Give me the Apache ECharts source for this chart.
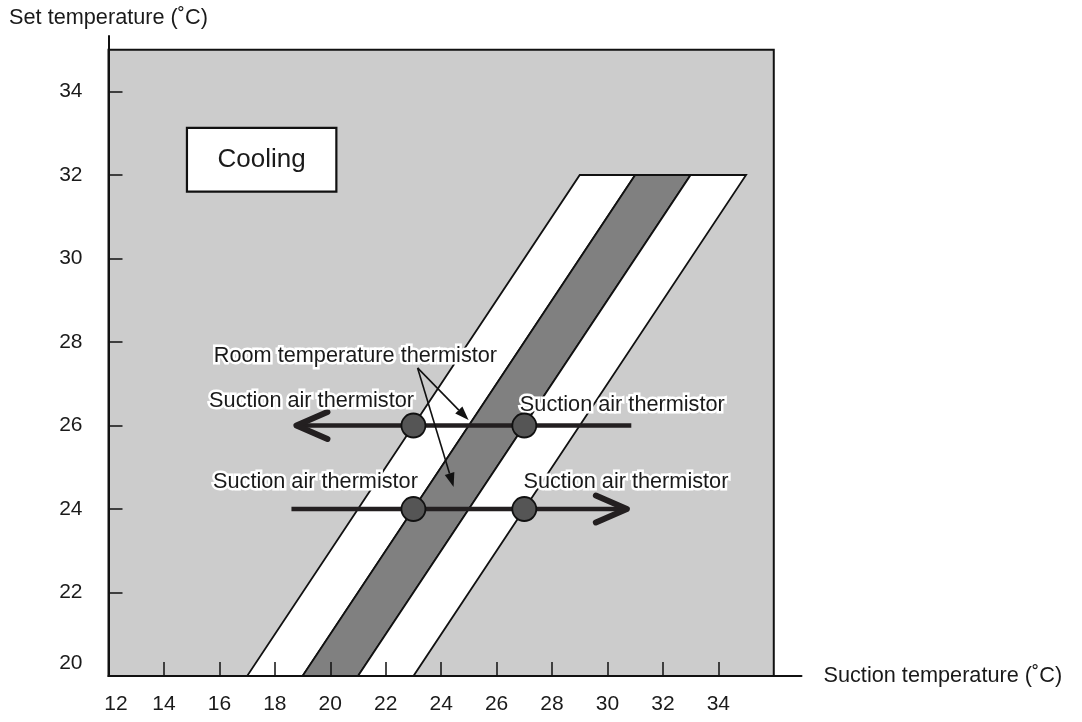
<!DOCTYPE html>
<html>
<head>
<meta charset="utf-8">
<script src="https://cdn.jsdelivr.net/npm/echarts@6/dist/echarts.min.js"></script>
<style>
  html, body { margin: 0; padding: 0; background: #ffffff; }
  #chart { width: 1082px; height: 722px; }
</style>
</head>
<body>
<div id="chart"></div>
<script>
// ---- Axis scales -------------------------------------------------------
const xTicks = [12, 14, 16, 18, 20, 22, 24, 26, 28, 30, 32, 34];
const yTicks = [20, 22, 24, 26, 28, 30, 32, 34];
const xAxisRange = [12, 37];      // axis line runs a little past the shaded field
const yAxisRange = [20, 35.33];
const fieldX = [12, 36];
const fieldY = [20, 35];

// ---- Control bands (suction temperature edges at the bottom / top set temperature)
const bandSetRange = [20, 32];
const bandEdgesBottom = [17, 19, 21, 23];
const bandEdgesTop = [29, 31, 33, 35];

// ---- Thermistor sweep lines
const sweepRows = [26, 24];
const sweepStart = [18.78, 18.6];
const sweepEnd = [30.86, 30.7];
const sweepHead = ['start', 'end'];
const sensorX = [23, 27];

// ---- Room temperature thermistor pointers
const pointerFrom = [23.15, 27.38];
const pointerTo = [[24.99, 26.13], [24.45, 24.53]];

// ---- Annotations (left edge, vertical centre)
const noteTexts = [
  'Room temperature thermistor',
  'Suction air thermistor',
  'Suction air thermistor',
  'Suction air thermistor',
  'Suction air thermistor'
];
const noteX = [15.8, 15.63, 26.84, 15.77, 26.97];
const noteY = [27.66, 26.59, 26.48, 24.64, 24.64];

const modeLabel = 'Cooling';
const modeBoxX = [14.83, 20.22];
const modeBoxY = [31.6, 33.13];

// ---- Styling
const FONT = '"Liberation Sans", Arial, Helvetica, sans-serif';
const INK = '#1a1a1a';
const TEXT_SIZE = 21.7;
const bandFills = ['#ffffff', '#808080', '#ffffff'];

const chart = echarts.init(document.getElementById('chart'), null, { renderer: 'canvas' });

const labelStyle = { fontSize: 21, color: INK, fontFamily: FONT };

const option = {
  animation: false,
  backgroundColor: '#ffffff',
  grid: { left: 108.5, right: 280.5, top: 36, bottom: 46, containLabel: false },
  xAxis: {
    type: 'value',
    min: xAxisRange[0],
    max: xAxisRange[1],
    z: 10,
    name: 'Suction temperature (˚C)',
    nameLocation: 'end',
    nameGap: 22,
    nameTextStyle: { fontSize: TEXT_SIZE, color: INK, fontFamily: FONT, verticalAlign: 'middle', padding: [8, 0, 0, 0] },
    axisLine: { onZero: false, lineStyle: { color: '#111', width: 2 } },
    axisTick: { inside: true, length: 14, customValues: xTicks, lineStyle: { color: '#111', width: 1.5 } },
    axisLabel: Object.assign({}, labelStyle, {
      customValues: xTicks,
      margin: 18,
      formatter: v => (v === xTicks[0] ? '{lead|' + v + '}' : String(v)),
      rich: { lead: Object.assign({}, labelStyle, { padding: [0, 0, 0, 15] }) }
    }),
    splitLine: { show: false }
  },
  yAxis: {
    type: 'value',
    min: yAxisRange[0],
    max: yAxisRange[1],
    z: 10,
    name: 'Set temperature (˚C)',
    nameLocation: 'end',
    nameGap: 7,
    nameTextStyle: { fontSize: TEXT_SIZE, color: INK, fontFamily: FONT, align: 'center' },
    axisLine: { onZero: false, lineStyle: { color: '#111', width: 2 } },
    axisTick: { inside: true, length: 14, customValues: yTicks, lineStyle: { color: '#111', width: 1.5 } },
    axisLabel: Object.assign({}, labelStyle, {
      customValues: yTicks,
      margin: 26,
      formatter: v => (v === yTicks[0] ? '{lift|' + v + '}' : String(v)),
      rich: { lift: Object.assign({}, labelStyle, { padding: [0, 0, 26, 0] }) }
    }),
    splitLine: { show: false }
  },
  series: [
    // shaded field
    {
      type: 'custom',
      data: [[fieldX[0], fieldY[0]]],
      renderItem: (params, api) => {
        const a = api.coord([fieldX[0], fieldY[1]]);
        const b = api.coord([fieldX[1], fieldY[0]]);
        return {
          type: 'rect',
          shape: { x: a[0], y: a[1], width: b[0] - a[0], height: b[1] - a[1] },
          style: { fill: '#cccccc', stroke: '#111', lineWidth: 2 }
        };
      }
    },
    // control bands
    {
      type: 'custom',
      data: bandFills.map((_, i) => [bandEdgesBottom[i], bandSetRange[0]]),
      renderItem: (params, api) => {
        const i = params.dataIndex;
        const pts = [
          api.coord([bandEdgesBottom[i], bandSetRange[0]]),
          api.coord([bandEdgesBottom[i + 1], bandSetRange[0]]),
          api.coord([bandEdgesTop[i + 1], bandSetRange[1]]),
          api.coord([bandEdgesTop[i], bandSetRange[1]])
        ];
        return {
          type: 'polygon',
          shape: { points: pts },
          style: { fill: bandFills[i], stroke: '#111', lineWidth: 1.8, lineJoin: 'miter' }
        };
      }
    },
    // mode box
    {
      type: 'custom',
      data: [[modeBoxX[0], modeBoxY[0]]],
      renderItem: (params, api) => {
        const a = api.coord([modeBoxX[0], modeBoxY[1]]);
        const b = api.coord([modeBoxX[1], modeBoxY[0]]);
        return {
          type: 'group',
          children: [
            {
              type: 'rect',
              shape: { x: a[0], y: a[1], width: b[0] - a[0], height: b[1] - a[1] },
              style: { fill: '#ffffff', stroke: '#111', lineWidth: 2.2 }
            },
            {
              type: 'text',
              style: {
                text: modeLabel, x: (a[0] + b[0]) / 2, y: (a[1] + b[1]) / 2,
                textAlign: 'center', textVerticalAlign: 'middle',
                fontSize: 26, fontFamily: FONT, fill: INK
              }
            }
          ]
        };
      }
    },
    // sweep lines with open arrowheads
    {
      type: 'custom',
      data: sweepRows.map((y, i) => [sweepStart[i], y]),
      renderItem: (params, api) => {
        const i = params.dataIndex;
        const y = sweepRows[i];
        const a = api.coord([sweepStart[i], y]);
        const b = api.coord([sweepEnd[i], y]);
        const atStart = sweepHead[i] === 'start';
        const tip = atStart ? a : b;
        const dir = atStart ? 1 : -1;
        return {
          type: 'group',
          children: [
            {
              type: 'line',
              shape: { x1: a[0], y1: a[1], x2: b[0], y2: b[1] },
              style: { stroke: '#231f20', lineWidth: 4.5 }
            },
            {
              type: 'polyline',
              shape: { points: [[tip[0] + dir * 31, tip[1] - 13.5], [tip[0], tip[1]], [tip[0] + dir * 31, tip[1] + 13.5]] },
              style: { stroke: '#231f20', fill: null, lineWidth: 6, lineCap: 'round', lineJoin: 'round' }
            }
          ]
        };
      }
    },
    // thermistor positions
    {
      type: 'scatter',
      symbol: 'circle',
      symbolSize: 24,
      data: sweepRows.flatMap(y => sensorX.map(x => [x, y])),
      itemStyle: { color: '#555555', borderColor: '#111', borderWidth: 1.8, opacity: 1 },
      emphasis: { disabled: true }
    },
    // room temperature thermistor pointers
    {
      type: 'custom',
      data: pointerTo,
      renderItem: (params, api) => {
        const i = params.dataIndex;
        const s = api.coord(pointerFrom);
        const e = api.coord(pointerTo[i]);
        const dx = e[0] - s[0], dy = e[1] - s[1];
        const len = Math.sqrt(dx * dx + dy * dy);
        const ux = dx / len, uy = dy / len;
        const headLen = 14, headHalf = 5;
        const bx = e[0] - ux * headLen, by = e[1] - uy * headLen;
        return {
          type: 'group',
          children: [
            {
              type: 'line',
              shape: { x1: s[0], y1: s[1], x2: bx, y2: by },
              style: { stroke: '#111', lineWidth: 1.6 }
            },
            {
              type: 'polygon',
              shape: { points: [[e[0], e[1]], [bx - uy * headHalf, by + ux * headHalf], [bx + uy * headHalf, by - ux * headHalf]] },
              style: { fill: '#111' }
            }
          ]
        };
      }
    },
    // annotations
    {
      type: 'custom',
      data: noteX.map((x, i) => [x, noteY[i]]),
      renderItem: (params, api) => {
        const i = params.dataIndex;
        const p = api.coord([noteX[i], noteY[i]]);
        return {
          type: 'text',
          style: {
            text: noteTexts[i], x: p[0], y: p[1],
            textAlign: 'left', textVerticalAlign: 'middle',
            fontSize: TEXT_SIZE, fontFamily: FONT, fill: INK,
            stroke: '#ffffff', lineWidth: 5, lineJoin: 'round'
          }
        };
      }
    }
  ]
};

chart.setOption(option);
</script>
</body>
</html>
